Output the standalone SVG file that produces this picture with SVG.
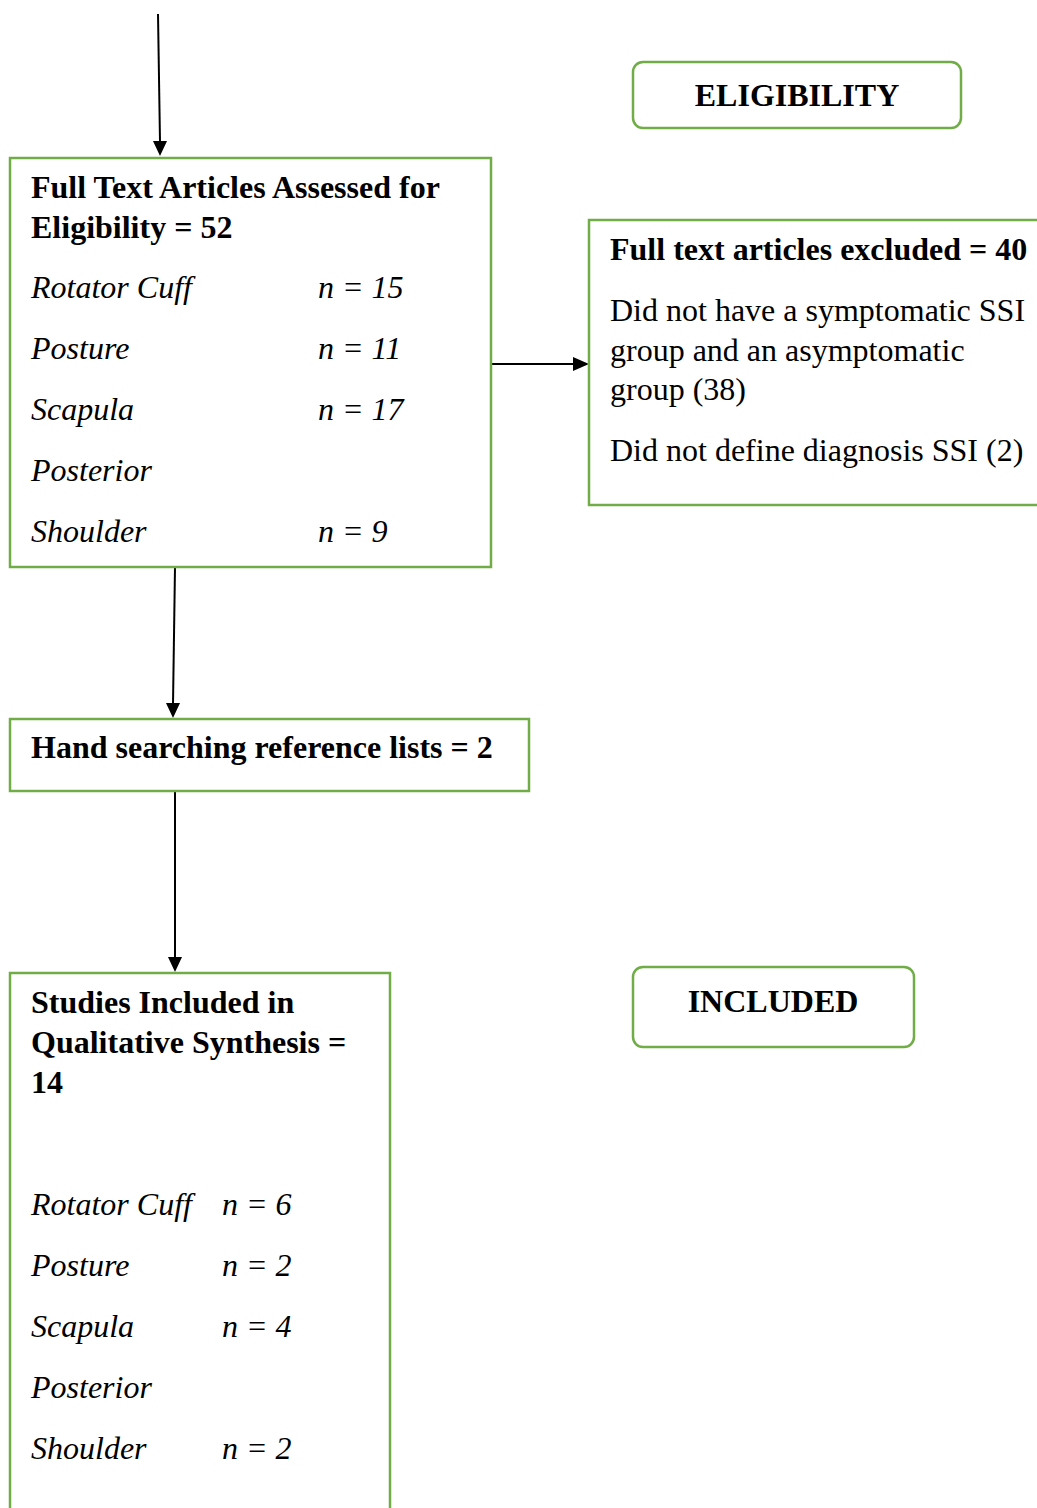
<svg xmlns="http://www.w3.org/2000/svg" width="1037" height="1508" viewBox="0 0 1037 1508">
<style>
.box{fill:#ffffff;stroke:#70AD47;stroke-width:2.5}
.t{font-family:"Liberation Serif","Times New Roman",serif;font-size:32px;fill:#000}
.b{font-weight:bold}
.i{font-style:italic}
.c{stroke:#000;stroke-width:2;fill:none}
</style>
<rect width="1037" height="1508" fill="#fff"/>
<g id="connectors">
<path class="c" d="M158,14 L160,142"/>
<path d="M153,141 L160,156 L167,141 Z" fill="#000"/>
<path class="c" d="M491,364 L575,364"/>
<path d="M573,357 L589,364 L573,371 Z" fill="#000"/>
<path class="c" d="M175,567 L173,704"/>
<path d="M166,703 L173,718 L180,703 Z" fill="#000"/>
<path class="c" d="M175,791 L175,958"/>
<path d="M168,957 L175,972 L182,957 Z" fill="#000"/>
</g>
<g id="eligibility-label">
<rect class="box" x="633" y="62" width="328" height="66" rx="10"/>
<text class="t b" x="797" y="106" text-anchor="middle">ELIGIBILITY</text>
</g>
<g id="assessed">
<rect class="box" x="10" y="158" width="481" height="409"/>
<text class="t b" x="31" y="198">Full Text Articles Assessed for</text>
<text class="t b" x="31" y="238">Eligibility = 52</text>
<text class="t i" x="31" y="298">Rotator Cuff</text><text class="t i" x="318" y="298">n = 15</text>
<text class="t i" x="31" y="359">Posture</text><text class="t i" x="318" y="359">n = 11</text>
<text class="t i" x="31" y="420">Scapula</text><text class="t i" x="318" y="420">n = 17</text>
<text class="t i" x="31" y="481">Posterior</text>
<text class="t i" x="31" y="542">Shoulder</text><text class="t i" x="318" y="542">n = 9</text>
</g>
<g id="excluded">
<rect class="box" x="589" y="220" width="460" height="285"/>
<text class="t b" x="610" y="260">Full text articles excluded = 40</text>
<text class="t" x="610" y="321">Did not have a symptomatic SSI</text>
<text class="t" x="610" y="361">group and an asymptomatic</text>
<text class="t" x="610" y="400">group (38)</text>
<text class="t" x="610" y="461">Did not define diagnosis SSI (2)</text>
</g>
<g id="hand-searching">
<rect class="box" x="10" y="719" width="519" height="72"/>
<text class="t b" x="31" y="758">Hand searching reference lists = 2</text>
</g>
<g id="included-label">
<rect class="box" x="633" y="967" width="281" height="80" rx="10"/>
<text class="t b" x="773" y="1012" text-anchor="middle">INCLUDED</text>
</g>
<g id="included">
<rect class="box" x="10" y="973" width="380" height="560"/>
<text class="t b" x="31" y="1013">Studies Included in</text>
<text class="t b" x="31" y="1053">Qualitative Synthesis =</text>
<text class="t b" x="31" y="1093">14</text>
<text class="t i" x="31" y="1215">Rotator Cuff</text><text class="t i" x="222" y="1215">n = 6</text>
<text class="t i" x="31" y="1276">Posture</text><text class="t i" x="222" y="1276">n = 2</text>
<text class="t i" x="31" y="1337">Scapula</text><text class="t i" x="222" y="1337">n = 4</text>
<text class="t i" x="31" y="1398">Posterior</text>
<text class="t i" x="31" y="1459">Shoulder</text><text class="t i" x="222" y="1459">n = 2</text>
</g>
</svg>
